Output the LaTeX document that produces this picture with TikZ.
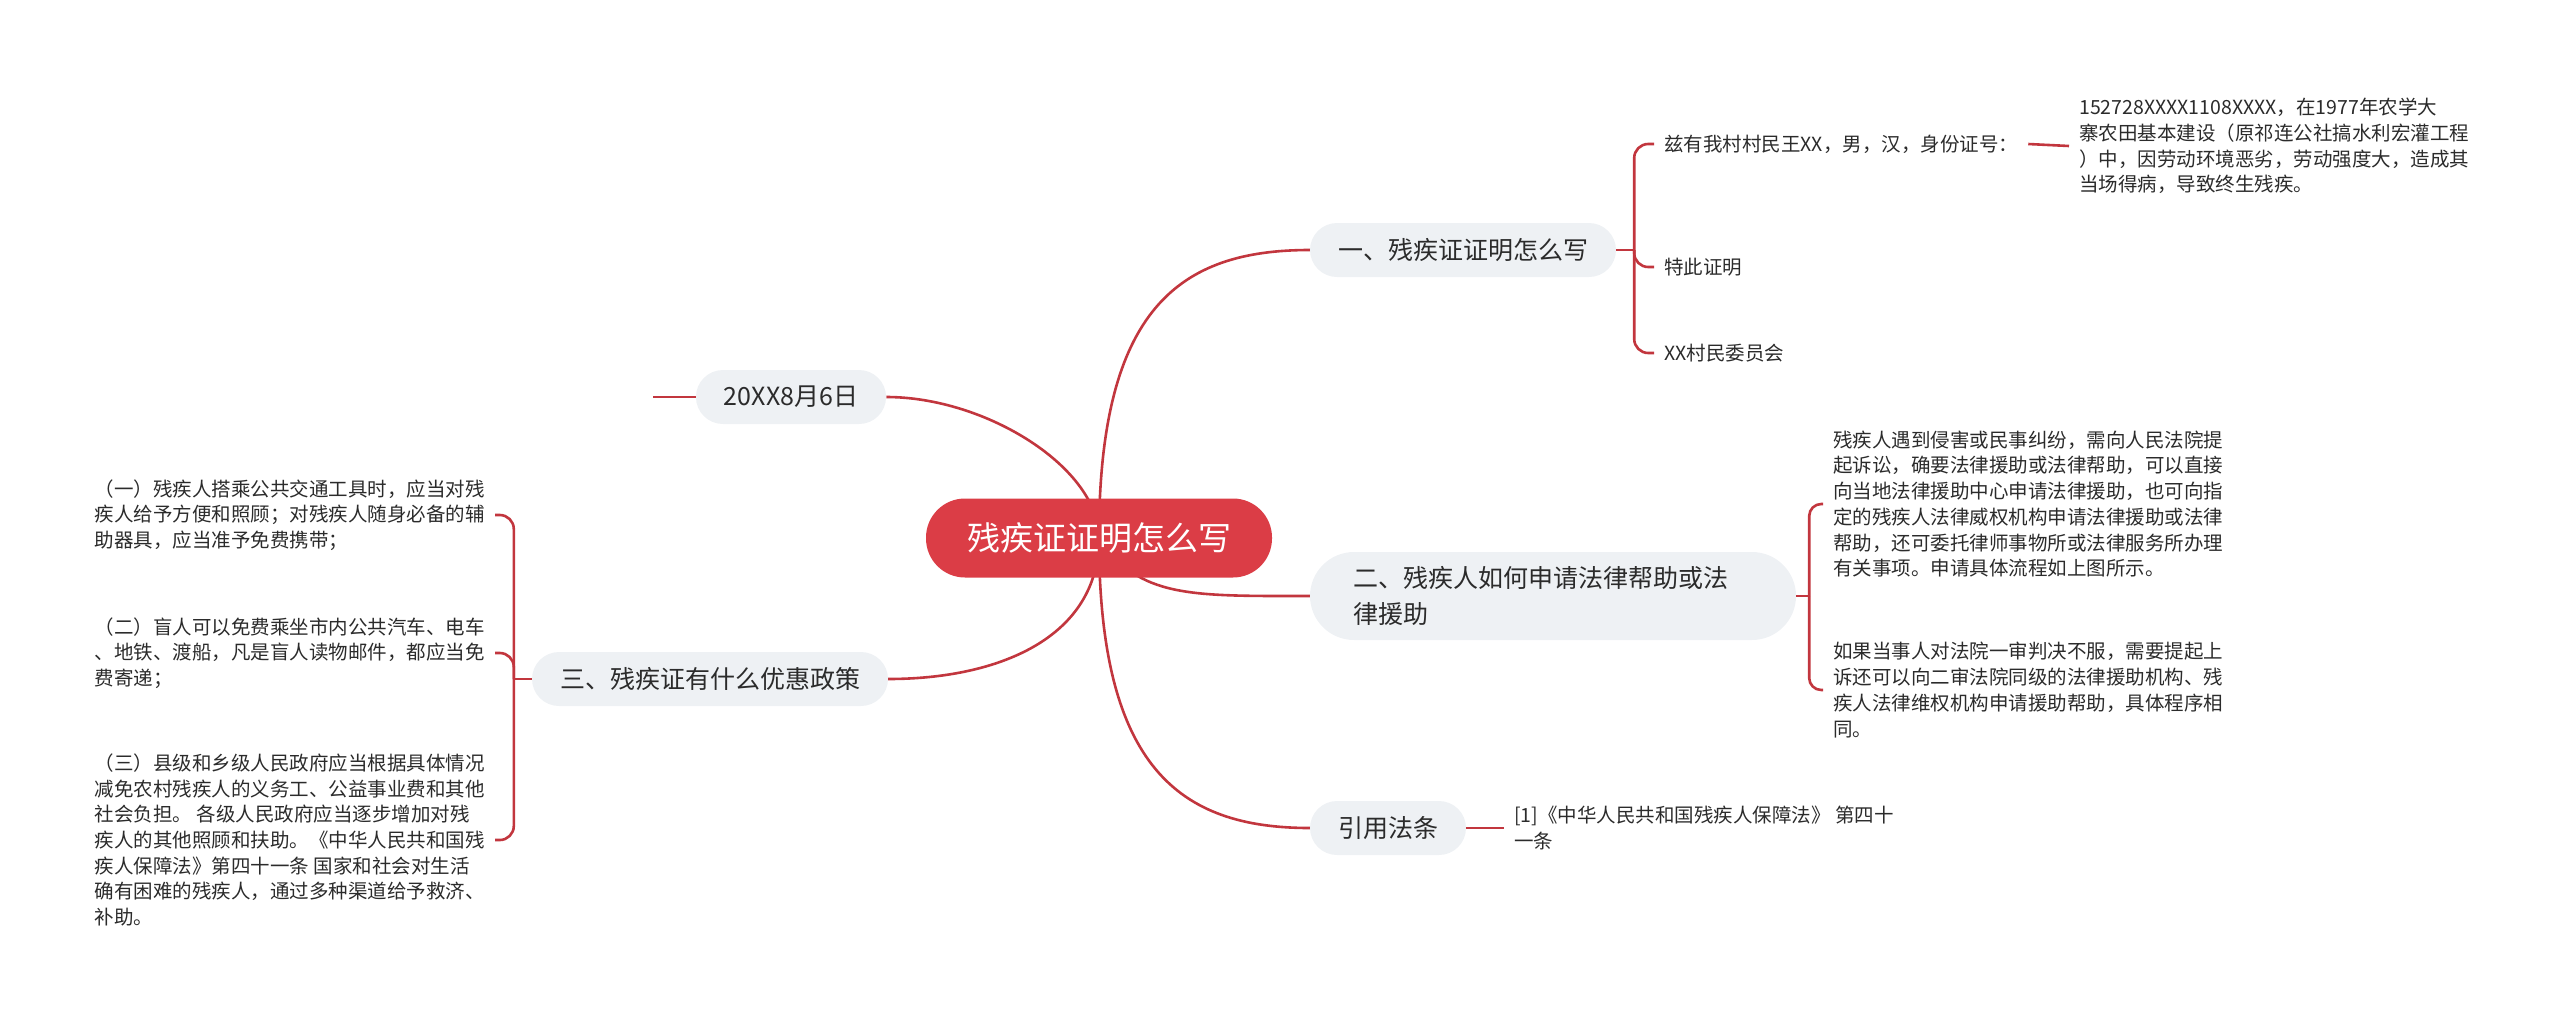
\documentclass[tikz,border=0pt]{standalone}
\usepackage{fontspec}
\setmainfont{Noto Sans CJK SC}
\usepackage{xcolor}
\usepackage{tikz}
\usetikzlibrary{backgrounds}
\definecolor{rootred}{HTML}{DB3D46}
\definecolor{linkred}{HTML}{C2363E}
\definecolor{boxgray}{HTML}{EEF1F4}
\definecolor{textdark}{HTML}{2B2B2B}

\begin{document}
\begin{tikzpicture}[x=1pt, y=1pt,
            root/.style={rectangle, rounded corners=39pt, fill=rootred, text=white,
            font=\fontsize{33}{40}\selectfont, minimum height=79pt, inner xsep=41pt},
            branch/.style={rectangle, rounded corners=27pt, fill=boxgray, text=textdark,
            font=\fontsize{25}{36}\selectfont, minimum height=54pt, inner xsep=28pt},
            leaf/.style={align=left, text=textdark,
            font=\fontsize{19.5}{25.7}\selectfont, inner sep=10pt},
            link/.style={draw=linkred, line width=2.6pt},
        ]
            \useasboundingbox (0,0) rectangle (2560,-1021);

            %% Mitte
            \node[root] (root) at (1099,-538) {残疾证证明怎么写};

            %% Ast 1
            \node[branch] (b1) at (1463,-250) {一、残疾证证明怎么写};
            \node[leaf, anchor=west] (l11) at (1654,-144) {兹有我村村民王XX，男，汉，身份证号：};
            \node[leaf, anchor=west] (l12) at (1654,-267) {特此证明};
            \node[leaf, anchor=west] (l13) at (1654,-353) {XX村民委员会};
            \node[leaf, anchor=west] (l111) at (2069,-146)
                {152728XXXX1108XXXX，在1977年农学大\\寨农田基本建设（原祁连公社搞水利宏灌工程\\）中，因劳动环境恶劣，劳动强度大，造成其\\当场得病，导致终生残疾。};

            %% Ast 2
            \node[branch, align=left, text width=400pt, inner xsep=43pt, minimum height=88pt,
                rounded corners=44pt] (b2) at (1553,-596) {二、残疾人如何申请法律帮助或法\\律援助};
            \node[leaf, anchor=west] (l21) at (1823,-504)
                {残疾人遇到侵害或民事纠纷，需向人民法院提\\起诉讼，确要法律援助或法律帮助，可以直接\\向当地法律援助中心申请法律援助，也可向指\\定的残疾人法律威权机构申请法律援助或法律\\帮助，还可委托律师事物所或法律服务所办理\\有关事项。申请具体流程如上图所示。};
            \node[leaf, anchor=west] (l22) at (1823,-690)
                {如果当事人对法院一审判决不服，需要提起上\\诉还可以向二审法院同级的法律援助机构、残\\疾人法律维权机构申请援助帮助，具体程序相\\同。};

            %% Ast 3
            \node[branch] (b3) at (710,-679) {三、残疾证有什么优惠政策};
            \node[leaf, anchor=east] (l31) at (495,-515)
                {（一）残疾人搭乘公共交通工具时，应当对残\\疾人给予方便和照顾；对残疾人随身必备的辅\\助器具，应当准予免费携带；};
            \node[leaf, anchor=east] (l32) at (495,-653)
                {（二）盲人可以免费乘坐市内公共汽车、电车\\、地铁、渡船，凡是盲人读物邮件，都应当免\\费寄递；};
            \node[leaf, anchor=east] (l33) at (495,-840)
                {（三）县级和乡级人民政府应当根据具体情况\\减免农村残疾人的义务工、公益事业费和其他\\社会负担。 各级人民政府应当逐步增加对残\\疾人的其他照顾和扶助。《中华人民共和国残\\疾人保障法》第四十一条 国家和社会对生活\\确有困难的残疾人，通过多种渠道给予救济、\\补助。};

            %% Ast 4
            \node[branch] (b4) at (1388,-828) {引用法条};
            \node[leaf, anchor=west] (l41) at (1504,-828) {[1]《中华人民共和国残疾人保障法》 第四十\\一条};

            %% Ast 5
            \node[branch] (b5) at (791,-397) {20XX8月6日};
            \coordinate (e5) at (653,-397);

            %% Linien
            \begin{scope}[on background layer]
                \draw[link] (root.center) .. controls +(0,230) and +(-130,0) .. (b1.west);
                \draw[link] (root.center) .. controls +(40,-60) and +(-120,0) .. (b2.west);
                \draw[link] (root.center) .. controls +(0,-100) and +(110,0) .. (b3.east);
                \draw[link] (root.center) .. controls +(0,-230) and +(-130,0) .. (b4.west);
                \draw[link] (root.center) .. controls +(0,70) and +(100,0) .. (b5.east);
            \end{scope}

            \draw[link] (b1.east) -- ++(18,0) coordinate (j1);
            \foreach \c in {l11,l12,l13} {
                \draw[link, rounded corners=14pt] (j1) |- (\c.west);
            }
            \draw[link] (l11.east) -- (l111.west);

            \draw[link] (b2.east) -- ++(13,0) coordinate (j2);
            \foreach \c in {l21,l22} {
                \draw[link, rounded corners=12pt] (j2) |- (\c.west);
            }

            \draw[link] (b3.west) -- ++(-18,0) coordinate (j3);
            \foreach \c in {l31,l32,l33} {
                \draw[link, rounded corners=14pt] (j3) |- (\c.east);
            }

            \draw[link] (b4.east) -- (l41.west);
            \draw[link] (b5.west) -- (e5);

        \end{tikzpicture}
\end{document}
